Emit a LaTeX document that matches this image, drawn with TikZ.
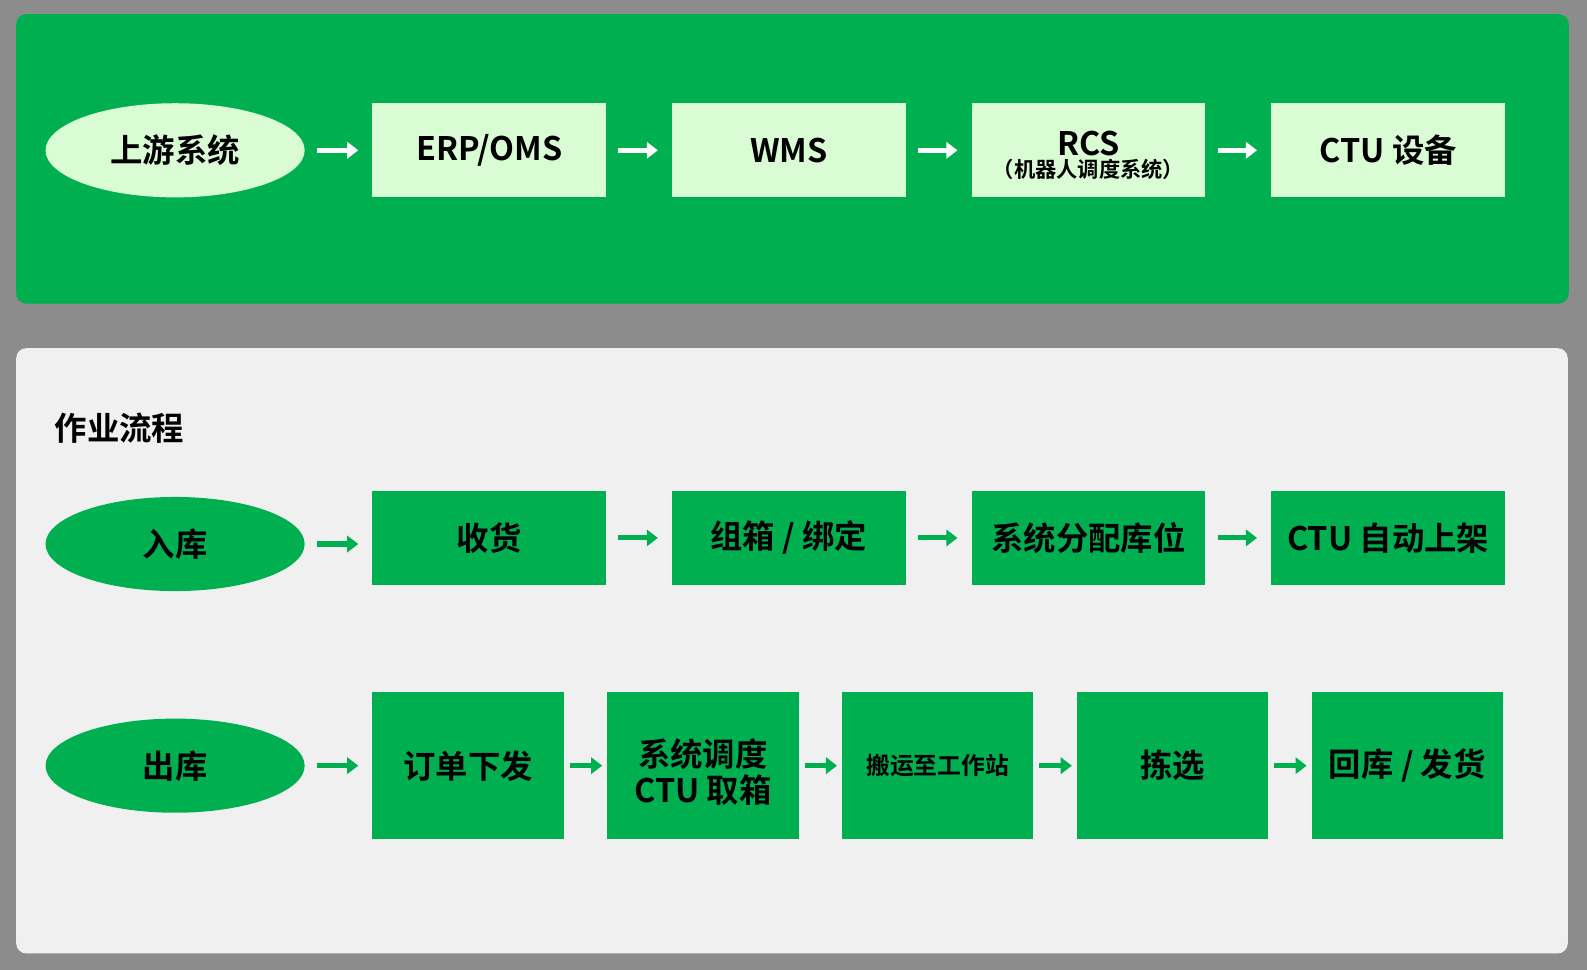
\documentclass[tikz,border=0pt]{standalone}
\usepackage{fontspec}
\setmainfont{Noto Sans CJK SC}[BoldFont={Noto Sans CJK SC Bold}]
\usetikzlibrary{shapes.geometric,positioning,arrows.meta}
\definecolor{bggray}{HTML}{8C8C8C}
\definecolor{mygreen}{HTML}{00B050}
\definecolor{palegreen}{HTML}{DAFCD4}
\definecolor{panelgray}{HTML}{F0F0F0}
\newcommand{\lowstack}[2][-6pt]{\raisebox{#1}[\height][\depth]{\begin{tabular}{@{}c@{}}#2\end{tabular}}}

\begin{document}
\begin{tikzpicture}[
    x=1pt, y=1pt,
    node distance=65pt,
    txt/.style={font=\fontsize{32}{35}\selectfont\bfseries, text=black, align=center, inner sep=0pt, outer sep=0pt},
    sysoval/.style={txt, ellipse, fill=palegreen, minimum width=256pt, minimum height=93pt},
    sysbox/.style={txt, fill=palegreen, minimum width=231pt, minimum height=93pt},
    flowoval/.style={txt, ellipse, fill=mygreen, minimum width=256pt, minimum height=93pt},
    flowbox/.style={txt, fill=mygreen, minimum width=231pt, minimum height=93pt},
    taskbox/.style={txt, fill=mygreen, minimum width=189pt, minimum height=145pt},
    arrow/.style={-{Triangle[length=11pt,width=16pt]}, line width=5pt, shorten <=12pt, shorten >=14pt},
    shortarrow/.style={arrow, shorten <=6pt, shorten >=5pt},
]
% background and panels
\fill[bggray] (0,0) rectangle (1568,-958);
\useasboundingbox (0,0) rectangle (1568,-958);
\fill[mygreen, rounded corners=10pt] (16,-14) rectangle (1550,-300);
\fill[panelgray, rounded corners=10pt] (16,-344) rectangle (1549,-942);

% system chain
\node[sysoval] (up) at (173,-148.5) {上游系统};
\node[sysbox, right=67pt of up] (erp) {ERP/OMS};
\node[sysbox, right=of erp] (wms) {WMS};
\node[sysbox, right=of wms] (rcs) {\lowstack[-9pt]{RCS\\[-13pt]{\fontsize{21}{21}\selectfont （机器人调度系统）}}};
\node[sysbox, right=of rcs] (ctu) {CTU 设备};

\draw[arrow, white] (up) -- (erp);
\draw[arrow, white] (erp) -- (wms);
\draw[arrow, white] (wms) -- (rcs);
\draw[arrow, white] (rcs) -- (ctu);

% inbound
\node[txt, anchor=west] (title) at (54,-423) {作业流程};
\node[flowoval] (inb) at (173,-537.5) {入库};
\node[flowbox] (recv) at (483.5,-531.5) {收货};
\node[flowbox, right=of recv] (bind) {组箱 / 绑定};
\node[flowbox, right=of bind] (slot) {系统分配库位};
\node[flowbox, right=of slot] (shelve) {CTU 自动上架};

\draw[arrow, mygreen] (inb.east) -- (inb.east -| recv.west);
\draw[arrow, mygreen] (recv) -- (bind);
\draw[arrow, mygreen] (bind) -- (slot);
\draw[arrow, mygreen] (slot) -- (shelve);

% outbound
\node[flowoval] (outb) at (173,-756.5) {出库};
\node[taskbox, right=67pt of outb] (order) {订单下发};
\node[taskbox, right=43pt of order] (fetch) {\lowstack[-10pt]{系统调度\\[-3pt]CTU 取箱}};
\node[taskbox, right=43pt of fetch] (carry) {\fontsize{23.5}{28}\selectfont 搬运至工作站};
\node[taskbox, right=43pt of carry] (pick) {拣选};
\node[taskbox, right=43pt of pick] (ship) {回库 / 发货};

\draw[arrow, mygreen] (outb) -- (order);
\draw[shortarrow, mygreen] (order) -- (fetch);
\draw[shortarrow, mygreen] (fetch) -- (carry);
\draw[shortarrow, mygreen] (carry) -- (pick);
\draw[shortarrow, mygreen] (pick) -- (ship);
\end{tikzpicture}
\end{document}
